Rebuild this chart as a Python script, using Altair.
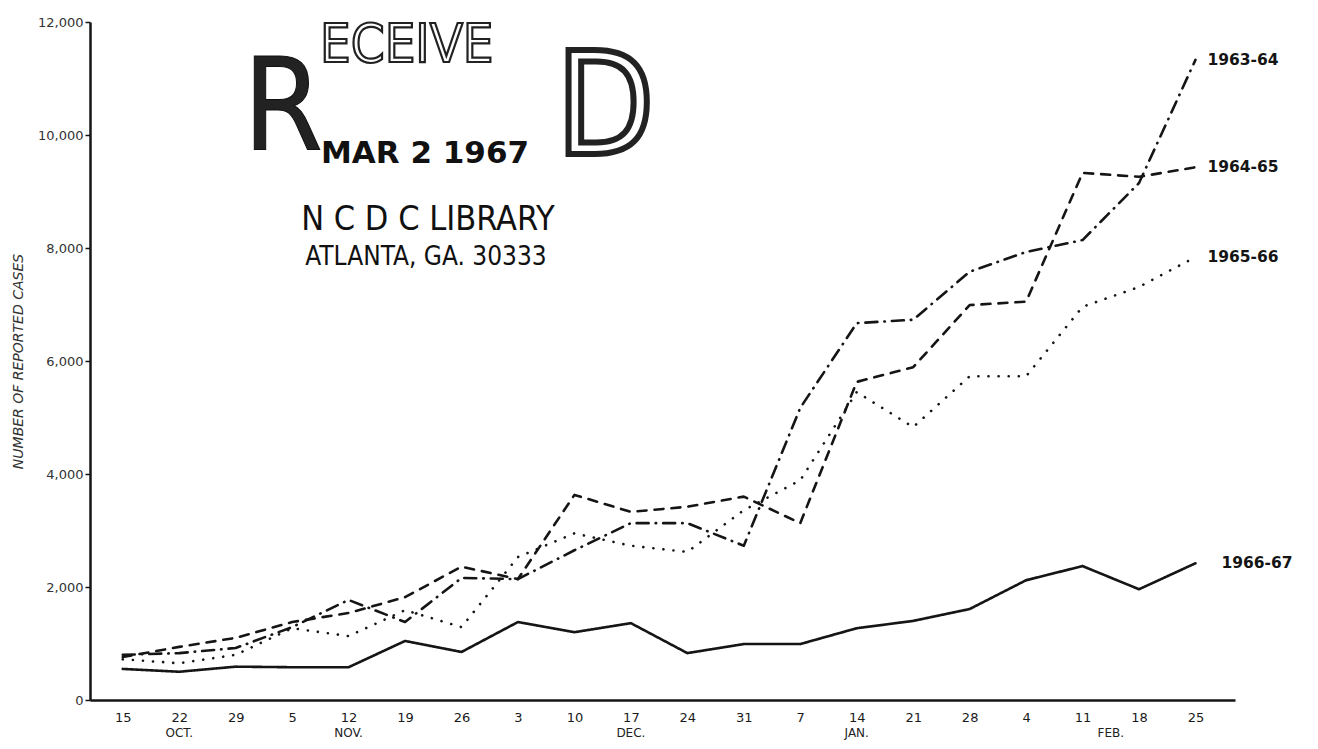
import altair as alt
import pandas as pd

# ---- data ----
weeks = ["15", "22", "29", "5", "12", "19", "26", "3", "10", "17", "24", "31",
         "7", "14", "21", "28", "4", "11", "18", "25"]
month_names = ["OCT.", "NOV.", "DEC.", "JAN.", "FEB."]
month_pos = [1, 4, 9, 13, 17.5]
series_names = ["1963-64", "1964-65", "1965-66", "1966-67"]
s6364 = [800, 830, 920, 1290, 1770, 1380, 2160, 2140, 2650, 3130, 3130, 2730,
         5170, 6670, 6730, 7580, 7930, 8140, 9150, 11330]
s6465 = [760, 940, 1100, 1380, 1540, 1820, 2360, 2140, 3630, 3330, 3420, 3600,
         3130, 5630, 5890, 6990, 7050, 9330, 9260, 9430]
s6566 = [720, 650, 800, 1270, 1130, 1590, 1290, 2530, 2950, 2730, 2620, 3360,
         3890, 5450, 4830, 5730, 5730, 6960, 7310, 7840]
s6667 = [550, 500, 590, 580, 580, 1045, 850, 1380, 1200, 1360, 830, 990,
         990, 1270, 1400, 1610, 2120, 2370, 1960, 2420]
y_ticks = [0, 2000, 4000, 6000, 8000, 10000, 12000]
stamp_big_r = ["R"]
stamp_small = ["ECEIVE"]
stamp_big_d = ["D"]
stamp_date = ["MAR  2  1967"]
stamp_lib = ["N C D C LIBRARY"]
stamp_city = ["ATLANTA, GA.  30333"]

rows = []
for name, vals in zip(series_names, [s6364, s6465, s6566, s6667]):
    for i, v in enumerate(vals):
        rows.append({"i": i, "week": weeks[i], "series": name, "cases": v})
df = pd.DataFrame(rows)
months_df = pd.DataFrame({"month": month_names, "pos": month_pos})

W, H = 1145, 678
INK = "#151515"
NARROW = "Liberation Sans Narrow, DejaVu Sans Condensed, Liberation Sans, sans-serif"

week_js = "[" + ",".join("'" + w + "'" for w in weeks) + "]"
label_expr = f"datum.value % 1 == 0 ? {week_js}[datum.value] : ''"
tick_vals = [k * 0.5 for k in range(0, 40)]

xscale = alt.Scale(domain=[-0.58, 19.7], nice=False, zero=False)
yscale = alt.Scale(domain=[0, 12000], nice=False)

x_enc = alt.X("i:Q", scale=xscale, axis=alt.Axis(
    values=tick_vals, labelExpr=label_expr, title=None, grid=False,
    tickSize=5, tickWidth=1.5, tickColor=INK,
    tickOpacity={"condition": {"test": "datum.value % 1 == 0", "value": 0}, "value": 1},
    domainColor=INK, domainWidth=2.5, labelColor="#1a1a1a", labelFont="DejaVu Sans",
    labelFontSize=13, labelPadding=6, labelOverlap=False,
    labelFlush=False, labelBound=False))
y_enc = alt.Y("cases:Q", scale=yscale, axis=alt.Axis(
    values=y_ticks, format=",.0f", title="NUMBER OF REPORTED CASES", grid=False,
    tickSize=5, tickWidth=1.5, tickColor=INK, domainColor=INK, domainWidth=2.5,
    labelColor="#333", labelFont="DejaVu Sans", labelFontSize=13, labelPadding=2,
    titleFont="DejaVu Sans", titleFontStyle="italic", titleFontWeight="normal",
    titleFontSize=14, titleColor="#333", titlePadding=12))

lines = alt.Chart(df).mark_line(strokeCap="round", strokeJoin="round", color=INK).encode(
    x=x_enc, y=y_enc,
    strokeDash=alt.StrokeDash("series:N", legend=None, scale=alt.Scale(
        domain=series_names, range=[[12, 7, 0.5, 7], [9, 8], [0.1, 10], [1, 0]])),
    strokeWidth=alt.StrokeWidth("series:N", legend=None, scale=alt.Scale(
        domain=series_names, range=[2.6, 2.6, 4.2, 3.0])),
    detail="series:N",
)

months = alt.Chart(months_df).mark_text(
    align="center", baseline="middle", font="DejaVu Sans", fontSize=12,
    color="#222").encode(x=alt.X("pos:Q", scale=xscale), y=alt.value(H + 33),
                         text="month:N")

last = df[df["i"] == len(weeks) - 1]
labels_top = alt.Chart(last[last["series"] != "1966-67"]).mark_text(
    align="left", baseline="middle", dx=12, font="DejaVu Sans", fontWeight="bold",
    fontSize=15.5, color=INK).encode(x="i:Q", y="cases:Q", text="series:N")
labels_bot = alt.Chart(last[last["series"] == "1966-67"]).mark_text(
    align="left", baseline="middle", dx=26, font="DejaVu Sans", fontWeight="bold",
    fontSize=15.5, color=INK).encode(x="i:Q", y="cases:Q", text="series:N")


def stamp(txt, x, y, size, **kw):
    return alt.Chart(pd.DataFrame({"t": txt})).mark_text(
        fontSize=size, baseline="alphabetic", **kw).encode(
        x=alt.value(x), y=alt.value(y), text="t:N")


stamps = [
    stamp(stamp_big_r, 153, 128, 128, align="left", font=NARROW, color="#222",
          stroke="#111", strokeWidth=1),
    stamp(stamp_small, 230, 40, 54, align="left", font=NARROW, fill="white",
          stroke="#222", strokeWidth=2.2),
    stamp(stamp_big_d, 466, 132, 142, align="left", font=NARROW, fill="white",
          stroke="#222", strokeWidth=6),
    stamp(stamp_date, 335, 141, 31, align="center", font="DejaVu Sans",
          fontWeight="bold", color="#111"),
    stamp(stamp_lib, 338, 208, 34, align="center", font=NARROW, color="#111"),
    stamp(stamp_city, 336, 243, 26, align="center", font=NARROW, color="#111"),
]

chart = alt.layer(lines, months, labels_top, labels_bot, *stamps).properties(
    width=W, height=H,
    autosize=alt.AutoSizeParams(type="none"),
    padding={"left": 82, "top": 14, "right": 75, "bottom": 41},
    background="white",
).configure_view(stroke=None)

chart.save("out.html", embed_options={"renderer": "svg", "actions": False})
